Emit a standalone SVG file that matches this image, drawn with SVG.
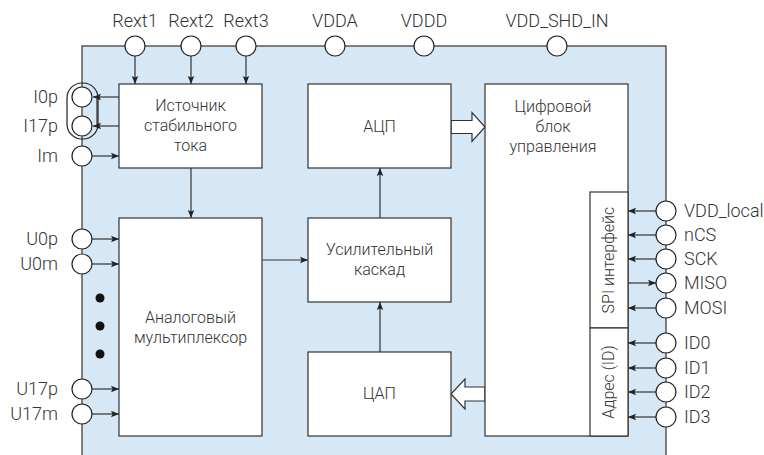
<svg xmlns="http://www.w3.org/2000/svg" width="764" height="455" viewBox="0 0 764 455">
<defs>
<marker id="ah" viewBox="0 0 8 8" refX="8" refY="4" markerWidth="8" markerHeight="8" markerUnits="userSpaceOnUse" orient="auto">
<path d="M0,0.8 L8,4 L0,7.2 L1.6,4 Z" fill="#222"/>
</marker>
<style>
text{font-family:Roboto,"Liberation Sans",sans-serif;font-weight:300;fill:#333;font-size:16px}
.lbl{font-size:18px}
.blk{fill:#fff;stroke:#333;stroke-width:1.2}
.pin{fill:#fff;stroke:#222;stroke-width:1.2}
.ln{stroke:#333;stroke-width:1.2;fill:none}
.ar{stroke:#333;stroke-width:1.2;fill:none;marker-end:url(#ah)}
.mid{text-anchor:middle}
.end{text-anchor:end}
</style>
</defs>
<g id="chip">
<rect x="82" y="46" width="584" height="420" fill="#d6e8f5" stroke="#333" stroke-width="1.2"/>
</g>
<g id="connectors">
<line class="ar" x1="135" y1="56" x2="135" y2="84"/>
<line class="ar" x1="191" y1="56" x2="191" y2="84"/>
<line class="ar" x1="246" y1="56" x2="246" y2="84"/>
<line class="ar" x1="119" y1="97" x2="93" y2="97"/>
<line class="ar" x1="119" y1="126" x2="93" y2="126"/>
<line class="ln" x1="97" y1="97" x2="97" y2="126"/>
<line class="ar" x1="92" y1="156" x2="119" y2="156"/>
<line class="ar" x1="191" y1="168" x2="191" y2="218"/>
<line class="ar" x1="92" y1="239" x2="119" y2="239"/>
<line class="ar" x1="92" y1="264" x2="119" y2="264"/>
<line class="ar" x1="92" y1="389" x2="119" y2="389"/>
<line class="ar" x1="92" y1="414" x2="119" y2="414"/>
<line class="ar" x1="262" y1="260" x2="308" y2="260"/>
<line class="ar" x1="380" y1="218" x2="380" y2="168"/>
<line class="ar" x1="380" y1="352" x2="380" y2="302"/>
<path d="M451,120.5 H472 V112.5 L485,127 L472,141.5 V133.5 H451 Z" fill="#fff" stroke="#333" stroke-width="1.2"/>
<path d="M485,387 H465 V379 L451,394 L465,409 V401 H485 Z" fill="#fff" stroke="#333" stroke-width="1.2"/>
<line class="ar" x1="656" y1="211" x2="628" y2="211"/>
<line class="ar" x1="656" y1="235" x2="628" y2="235"/>
<line class="ar" x1="656" y1="259" x2="628" y2="259"/>
<line class="ar" x1="628" y1="283" x2="656" y2="283"/>
<line class="ar" x1="656" y1="308" x2="628" y2="308"/>
<line class="ar" x1="656" y1="343" x2="628" y2="343"/>
<line class="ar" x1="656" y1="368" x2="628" y2="368"/>
<line class="ar" x1="656" y1="392" x2="628" y2="392"/>
<line class="ar" x1="656" y1="417" x2="628" y2="417"/>
</g>
<g id="current_source">
<rect class="blk" x="119" y="84" width="143" height="84"/>
<text class="mid" x="190.5" y="111">Источник</text>
<text class="mid" x="190.5" y="131">стабильного</text>
<text class="mid" x="190.5" y="151">тока</text>
</g>
<g id="mux">
<rect class="blk" x="119" y="218" width="143" height="218"/>
<text class="mid" x="190.5" y="323">Аналоговый</text>
<text class="mid" x="190.5" y="343">мультиплексор</text>
</g>
<g id="adc">
<rect class="blk" x="308" y="84" width="143" height="84"/>
<text class="mid" x="379.5" y="132">АЦП</text>
</g>
<g id="amp">
<rect class="blk" x="308" y="218" width="143" height="84"/>
<text class="mid" x="379.5" y="255">Усилительный</text>
<text class="mid" x="379.5" y="275">каскад</text>
</g>
<g id="dac">
<rect class="blk" x="308" y="352" width="143" height="84"/>
<text class="mid" x="379.5" y="399">ЦАП</text>
</g>
<g id="digital">
<rect class="blk" x="485" y="84" width="143" height="352"/>
<text class="mid" x="553" y="112">Цифровой</text>
<text class="mid" x="553" y="132">блок</text>
<text class="mid" x="553" y="152">управления</text>
</g>
<g id="spi">
<rect class="blk" x="590" y="192" width="38" height="136"/>
<text class="mid" transform="translate(614,260) rotate(-90)">SPI интерфейс</text>
</g>
<g id="addr">
<rect class="blk" x="590" y="328" width="38" height="108"/>
<text class="mid" transform="translate(614,382) rotate(-90)">Адрес (ID)</text>
</g>
<g id="top_pins">
<circle class="pin" cx="135" cy="46" r="10"/><text class="lbl mid" x="135" y="27">Rext1</text>
<circle class="pin" cx="191" cy="46" r="10"/><text class="lbl mid" x="191" y="27">Rext2</text>
<circle class="pin" cx="246" cy="46" r="10"/><text class="lbl mid" x="246" y="27">Rext3</text>
<circle class="pin" cx="335" cy="46" r="10"/><text class="lbl mid" x="335" y="27">VDDA</text>
<circle class="pin" cx="424" cy="46" r="10"/><text class="lbl mid" x="424" y="27">VDDD</text>
<circle class="pin" cx="557" cy="46" r="10"/><text class="lbl mid" x="557" y="27">VDD_SHD_IN</text>
</g>
<g id="left_pins">
<rect x="67" y="83" width="31" height="56" rx="15" fill="none" stroke="#222" stroke-width="1.2"/>
<circle class="pin" cx="82" cy="97" r="10"/><text class="lbl end" x="58" y="103">I0p</text>
<circle class="pin" cx="82" cy="126" r="10"/><text class="lbl end" x="58" y="132">I17p</text>
<circle class="pin" cx="82" cy="156" r="10"/><text class="lbl end" x="58" y="162">Im</text>
<circle class="pin" cx="82" cy="239" r="10"/><text class="lbl end" x="58" y="245">U0p</text>
<circle class="pin" cx="82" cy="264" r="10"/><text class="lbl end" x="58" y="270">U0m</text>
<circle cx="100" cy="298" r="4.5" fill="#111"/>
<circle cx="100" cy="326" r="4.5" fill="#111"/>
<circle cx="100" cy="354" r="4.5" fill="#111"/>
<circle class="pin" cx="82" cy="389" r="10"/><text class="lbl end" x="58" y="395">U17p</text>
<circle class="pin" cx="82" cy="414" r="10"/><text class="lbl end" x="58" y="420">U17m</text>
</g>
<g id="right_pins">
<circle class="pin" cx="666" cy="211" r="10"/><text class="lbl" x="684" y="217">VDD_local</text>
<circle class="pin" cx="666" cy="235" r="10"/><text class="lbl" x="684" y="241">nCS</text>
<circle class="pin" cx="666" cy="259" r="10"/><text class="lbl" x="684" y="265">SCK</text>
<circle class="pin" cx="666" cy="283" r="10"/><text class="lbl" x="684" y="289">MISO</text>
<circle class="pin" cx="666" cy="308" r="10"/><text class="lbl" x="684" y="314">MOSI</text>
<circle class="pin" cx="666" cy="343" r="10"/><text class="lbl" x="684" y="349">ID0</text>
<circle class="pin" cx="666" cy="368" r="10"/><text class="lbl" x="684" y="374">ID1</text>
<circle class="pin" cx="666" cy="392" r="10"/><text class="lbl" x="684" y="398">ID2</text>
<circle class="pin" cx="666" cy="417" r="10"/><text class="lbl" x="684" y="423">ID3</text>
</g>
</svg>
